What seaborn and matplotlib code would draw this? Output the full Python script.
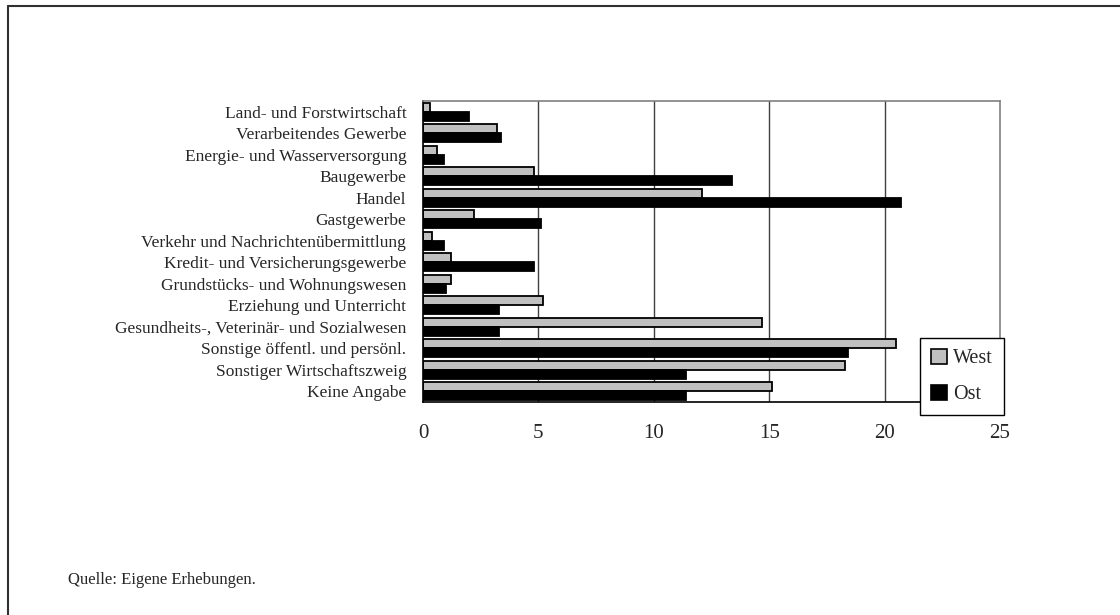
import numpy as np
import pandas as pd
import matplotlib
matplotlib.use('Agg')
import matplotlib.pyplot as plt
import seaborn as sns
from matplotlib.patches import Patch
from matplotlib.lines import Line2D

# Wirtschaftszweige (von oben nach unten)
branchen = [
    'Land- und Forstwirtschaft',
    'Verarbeitendes Gewerbe',
    'Energie- und Wasserversorgung',
    'Baugewerbe',
    'Handel',
    'Gastgewerbe',
    'Verkehr und Nachrichtenübermittlung',
    'Kredit- und Versicherungsgewerbe',
    'Grundstücks- und Wohnungswesen',
    'Erziehung und Unterricht',
    'Gesundheits-, Veterinär- und Sozialwesen',
    'Sonstige öffentl. und persönl.',
    'Sonstiger Wirtschaftszweig',
    'Keine Angabe',
]
west = [0.3, 3.2, 0.6, 4.8, 12.1, 2.2, 0.4, 1.2, 1.2, 5.2, 14.7, 20.5, 18.3, 15.1]
ost = [2.0, 3.4, 0.9, 13.4, 20.7, 5.1, 0.9, 4.8, 1.0, 3.3, 3.3, 18.4, 11.4, 11.4]
gruppen = ['West', 'Ost']
farben = {'West': '#c0c0c0', 'Ost': '#000000'}
x_ticks = [0, 5, 10, 15, 20, 25]

df = pd.DataFrame({
    'Branche': branchen * 2,
    'Wert': west + ost,
    'Gruppe': ['West'] * len(branchen) + ['Ost'] * len(branchen),
})

sns.set_style('white')
plt.rcParams['font.family'] = ['Liberation Serif', 'DejaVu Serif']

fig = plt.figure(figsize=(11.2, 6.15), dpi=100)
ax = fig.add_axes([0.3777, 0.3463, 0.5152, 0.4894])

sns.barplot(data=df, x='Wert', y='Branche', hue='Gruppe', hue_order=gruppen,
            palette=farben, orient='h', order=branchen, width=0.84,
            edgecolor='black', linewidth=1.3, ax=ax, legend=False)

ax.set_xlim(0, 25)
ax.set_ylim(len(branchen) - 0.5, -0.5)
ax.set_xticks(x_ticks)
ax.set_xticklabels([str(t) for t in x_ticks], fontsize=15)
ax.set_yticks(range(len(branchen)))
ax.set_yticklabels(branchen, fontsize=12.5)
ax.tick_params(axis='y', length=0, pad=12)
ax.set_yticks(np.arange(-0.5, len(branchen), 1), minor=True)
ax.tick_params(axis='y', which='minor', length=5, width=1, color='black', direction='out')
ax.tick_params(axis='x', length=4, width=1, color='black', direction='out', pad=12)
ax.set_xlabel('')
ax.set_ylabel('')

ax.grid(False)
for v in x_ticks[1:-1]:
    ax.axvline(v, color='#404040', linewidth=1, zorder=0)

ax.spines['left'].set_color('black')
ax.spines['bottom'].set_color('black')
ax.spines['top'].set_color('#808080')
ax.spines['right'].set_color('#808080')
for s in ax.spines.values():
    s.set_linewidth(1.2)
    s.set_visible(True)

handles = [Patch(facecolor=farben[g], edgecolor='black', linewidth=1.2, label=g) for g in gruppen]
leg = fig.legend(handles=handles, loc='upper left', bbox_to_anchor=(0.821, 0.451),
                 bbox_transform=fig.transFigure, frameon=True, fancybox=False,
                 edgecolor='black', fontsize=14.5, handlelength=0.8, handleheight=0.8,
                 handletextpad=0.3, labelspacing=0.8, borderpad=0.55, borderaxespad=0)
leg.get_frame().set_linewidth(1)
leg.get_frame().set_facecolor('white')
leg.get_frame().set_alpha(1)

fig.text(68 / 1120, 1 - 580 / 615, 'Quelle: Eigene Erhebungen.', fontsize=12,
         va='center', ha='left')

# Rahmen (nur oben und links sichtbar)
fig.add_artist(Line2D([7.5 / 1120, 7.5 / 1120], [0, 1 - 5.5 / 615],
                      transform=fig.transFigure, color='#303030', linewidth=1.5))
fig.add_artist(Line2D([7.5 / 1120, 1], [1 - 5.5 / 615, 1 - 5.5 / 615],
                      transform=fig.transFigure, color='#303030', linewidth=1.5))

fig.savefig('out.png', dpi=100)
